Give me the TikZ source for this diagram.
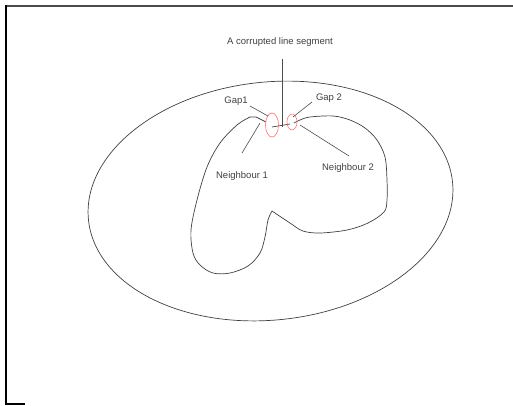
\documentclass[tikz,border=0pt]{standalone}
\usepackage{fontspec}
\setmainfont{Liberation Sans}
\begin{document}
\begin{tikzpicture}[x=1pt,y=-1pt,
  lbl/.style={font=\fontsize{9.5}{11}\selectfont, text=black!75, inner sep=0pt},
  lead/.style={draw=black!70, line width=0.6pt},
  shape line/.style={draw=black!75, line width=0.7pt},
  gapmark/.style={draw=red!55, line width=0.6pt}]
\useasboundingbox (0,0) rectangle (513,405);
% frame
\draw[black!70, line width=1.6pt] (5,6) -- (513,6);
\draw[black, line width=1.8pt] (6,5) -- (6,404);
\draw[black, line width=1.2pt] (5,404) -- (25,404);
% outer ellipse
\draw[shape line] (270.5,201) ellipse[x radius=183, y radius=119, rotate=6];
% inner shape
\draw[shape line] plot[smooth, tension=0.55] coordinates {(294,123) (300,120) (310,117) (333,116) (350,120) (365,128) (377,140) (385,157) (387,180) (387,200) (384,212) (368,223) (347,230) (320,233) (303,231) (290,223) (272,211)};
\draw[shape line] plot[smooth, tension=0.55] coordinates {(272,211) (268,220) (265,237) (260,253) (248,266) (230,273) (213,273) (200,265) (193,253) (191,230) (197,200) (207,167) (220,143) (237,125) (250,117)};
\draw[shape line] (250,117) -- (256,117) -- (266,122);
% corrupted segment
\draw[shape line] (272,127) -- (290,124);
% gap marks
\draw[gapmark] (272,125) ellipse[x radius=6.5, y radius=12];
\draw[gapmark] (292,122) ellipse[x radius=5, y radius=8];
% labels
\node[lbl] (seg) at (280,42) {A corrupted line segment};
\node[lbl] (gap1) at (236,101) {Gap1};
\node[lbl] (gap2) at (329,98) {Gap 2};
\node[lbl] (nb1) at (242,176) {Neighbour 1};
\node[lbl] (nb2) at (348,168) {Neighbour 2};
% leader ends
\coordinate (segtop) at (282,59);
\coordinate (segbot) at (282,127);
\coordinate (g1a) at (250,106);
\coordinate (g1b) at (268,116);
\coordinate (g2a) at (312,102);
\coordinate (g2b) at (293,117);
\coordinate (n1a) at (242,153);
\coordinate (n1b) at (260,123);
\coordinate (n2a) at (349,156);
\coordinate (n2b) at (300,125);
\draw[lead] (segtop) -- (segbot);
\draw[lead] (g1a) -- (g1b);
\draw[lead] (g2a) -- (g2b);
\draw[lead] (n1a) -- (n1b);
\draw[lead] (n2a) -- (n2b);
\end{tikzpicture}
\end{document}
